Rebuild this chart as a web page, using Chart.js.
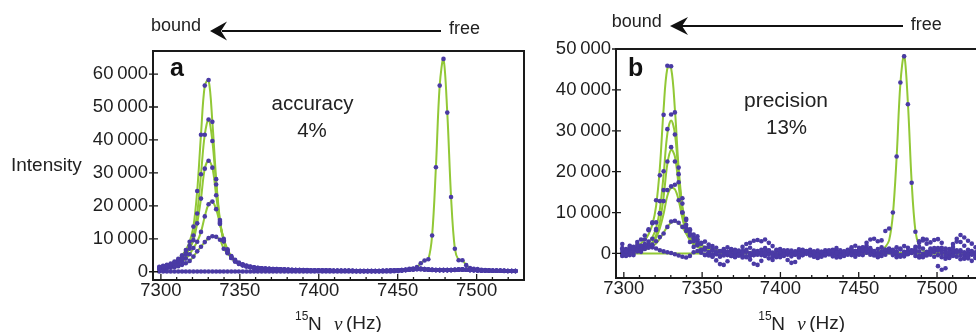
<!DOCTYPE html>
<html>
<head>
<meta charset="utf-8">
<script src="https://cdn.jsdelivr.net/npm/chart.js@4.4.1/dist/chart.umd.min.js"></script>
<style>
  html, body { margin: 0; padding: 0; background: #fff; overflow: hidden; }
  body { width: 976px; height: 332px; position: relative; }
  canvas { position: absolute; top: 0; }
  #chartA { left: 0; }
  #chartB { left: 530px; }
  .lbl { position: absolute; white-space: nowrap; line-height: 1; color: #222;
         font-family: "Liberation Sans", Arial, Helvetica, sans-serif; }
  .serif { font-family: "Liberation Serif", "Times New Roman", serif; font-style: italic; }
  .bold { font-weight: bold; color: #111; }
  #arrows { position: absolute; left: 0; top: 0; }
</style>
</head>
<body>
<canvas id="chartA" width="530" height="332"></canvas>
<canvas id="chartB" width="470" height="332"></canvas>

<svg id="arrows" width="976" height="50">
  <line x1="441" y1="31" x2="222" y2="31" stroke="#111" stroke-width="1.8"/>
  <polygon points="210,31 227,21.5 221,31 227,40.5" fill="#111"/>
  <line x1="903" y1="26" x2="682" y2="26" stroke="#111" stroke-width="1.8"/>
  <polygon points="670,26 688,17 682,26 688,35" fill="#111"/>
</svg>

<!-- annotations -->
<div class="lbl" style="left:11px;top:155.4px;font-size:19px">Intensity</div>
<div class="lbl" style="left:151px;top:16.3px;font-size:18px">bound</div>
<div class="lbl" style="left:449px;top:19.1px;font-size:18px">free</div>
<div class="lbl" style="left:611.7px;top:12.1px;font-size:18px">bound</div>
<div class="lbl" style="left:910.7px;top:14.8px;font-size:18px">free</div>
<div class="lbl" style="left:312.5px;top:93.2px;font-size:20.5px;transform:translateX(-50%)">accuracy</div>
<div class="lbl" style="left:312px;top:120px;font-size:20.5px;transform:translateX(-50%)">4%</div>
<div class="lbl" style="left:786px;top:88.7px;font-size:21px;transform:translateX(-50%)">precision</div>
<div class="lbl" style="left:786.5px;top:117px;font-size:20.5px;transform:translateX(-50%)">13%</div>
<div class="lbl bold" style="left:170px;top:55.3px;font-size:25px">a</div>
<div class="lbl bold" style="left:628px;top:54.8px;font-size:25px">b</div>

<!-- x axis titles -->
<div class="lbl" style="left:295px;top:310.3px;font-size:12px">15</div>
<div class="lbl" style="left:308px;top:313.9px;font-size:19px">N</div>
<div class="lbl serif" style="left:334px;top:314.1px;font-size:19px">ν</div>
<div class="lbl" style="left:346px;top:313.4px;font-size:19px">(Hz)</div>
<div class="lbl" style="left:758.3px;top:310.3px;font-size:12px">15</div>
<div class="lbl" style="left:771.3px;top:313.9px;font-size:19px">N</div>
<div class="lbl serif" style="left:797.3px;top:314.1px;font-size:19px">ν</div>
<div class="lbl" style="left:809.3px;top:313.4px;font-size:19px">(Hz)</div>

<script>
// 15N frequency grid of the spectra (Hz)
const freq = [
  7299.0, 7301.4, 7303.8, 7306.2, 7308.6, 7311.0, 7313.4, 7315.8, 7318.2, 7320.6,
  7323.0, 7325.4, 7327.8, 7330.2, 7332.6, 7335.0, 7337.4, 7339.8, 7342.2, 7344.6,
  7347.0, 7349.4, 7351.8, 7354.2, 7356.6, 7359.0, 7361.4, 7363.8, 7366.2, 7368.6,
  7371.0, 7373.4, 7375.8, 7378.2, 7380.6, 7383.0, 7385.4, 7387.8, 7390.2, 7392.6,
  7395.0, 7397.4, 7399.8, 7402.2, 7404.6, 7407.0, 7409.4, 7411.8, 7414.2, 7416.6,
  7419.0, 7421.4, 7423.8, 7426.2, 7428.6, 7431.0, 7433.4, 7435.8, 7438.2, 7440.6,
  7443.0, 7445.4, 7447.8, 7450.2, 7452.6, 7455.0, 7457.4, 7459.8, 7462.2, 7464.6,
  7467.0, 7469.4, 7471.8, 7474.2, 7476.6, 7479.0, 7481.4, 7483.8, 7486.2, 7488.6,
  7491.0, 7493.4, 7495.8, 7498.2, 7500.6, 7503.0, 7505.4, 7507.8, 7510.2, 7512.6,
  7515.0, 7517.4, 7519.8, 7522.2, 7524.6
];

// panel a: intensities in thousands
const aBound1 = [
  1.5, 1.8, 2.1, 2.5, 3.1, 3.9, 5.0, 6.6, 9.1, 13.7,
  24.5, 41.6, 56.5, 58.2, 45.5, 28.1, 15.7, 9.4, 6.0, 4.2,
  3.1, 2.4, 1.95, 1.6, 1.35, 1.15, 1.0, 0.9, 0.85, 0.8,
  0.75, 0.7, 0.65, 0.6, 0.55, 0.5, 0.5, 0.45, 0.45, 0.4,
  0.4, 0.4, 0.35, 0.35, 0.35, 0.3, 0.3, 0.3, 0.3, 0.3,
  0.3, 0.25, 0.25, 0.25, 0.25, 0.25, 0.25, 0.25, 0.25, 0.25,
  0.3, 0.3, 0.35, 0.4, 0.45, 0.5, 0.6, 0.7, 0.8, 0.8,
  0.7, 0.6, 0.55, 0.5, 0.5, 0.5, 0.5, 0.5, 0.55, 0.6,
  0.65, 0.6, 0.5, 0.45, 0.4, 0.35, 0.35, 0.3, 0.3, 0.3,
  0.3, 0.25, 0.25, 0.25, 0.25
];
const aBound2 = [
  1.3, 1.5, 1.8, 2.2, 2.7, 3.4, 4.4, 5.8, 7.9, 11.0,
  17.7, 29.6, 41.6, 46.2, 39.7, 26.5, 15.2, 9.2, 6.0, 4.2,
  3.1, 2.4, 1.95, 1.6, 1.35, 1.15, 1.0, 0.9, 0.85, 0.8,
  0.75, 0.7, 0.65, 0.6, 0.55, 0.55, 0.5, 0.5, 0.45, 0.45,
  0.4, 0.4, 0.4, 0.35, 0.35, 0.35, 0.3, 0.3, 0.3, 0.3,
  0.3, 0.3, 0.25, 0.25, 0.25, 0.25, 0.25, 0.25, 0.25, 0.3,
  0.3, 0.35, 0.4, 0.45, 0.5, 0.6, 0.7, 0.8, 0.9, 0.9,
  0.8, 0.7, 0.6, 0.55, 0.5, 0.5, 0.5, 0.55, 0.6, 0.7,
  0.7, 0.6, 0.55, 0.5, 0.45, 0.4, 0.35, 0.35, 0.3, 0.3,
  0.3, 0.3, 0.25, 0.25, 0.25
];
const aBound3 = [
  1.2, 1.4, 1.7, 2.0, 2.5, 3.1, 4.0, 5.2, 7.0, 9.6,
  14.7, 22.2, 31.3, 33.7, 31.6, 23.2, 14.8, 9.6, 6.5, 4.6,
  3.4, 2.6, 2.1, 1.75, 1.45, 1.25, 1.1, 1.0, 0.9, 0.85,
  0.8, 0.75, 0.7, 0.65, 0.6, 0.55, 0.5, 0.5, 0.45, 0.45,
  0.4, 0.4, 0.4, 0.35, 0.35, 0.35, 0.3, 0.3, 0.3, 0.3,
  0.3, 0.3, 0.25, 0.25, 0.25, 0.25, 0.25, 0.25, 0.25, 0.3,
  0.3, 0.35, 0.4, 0.45, 0.5, 0.6, 0.7, 0.8, 0.9, 0.9,
  0.8, 0.7, 0.6, 0.55, 0.5, 0.5, 0.5, 0.55, 0.6, 0.7,
  0.7, 0.6, 0.55, 0.5, 0.45, 0.4, 0.35, 0.35, 0.3, 0.3,
  0.3, 0.3, 0.25, 0.25, 0.25
];
const aBound4 = [
  1.0, 1.2, 1.4, 1.7, 2.0, 2.5, 3.1, 4.0, 5.3, 7.2,
  9.1, 12.1, 16.8, 20.5, 21.3, 19.0, 14.5, 10.0, 6.8, 4.8,
  3.6, 2.8, 2.25, 1.85, 1.55, 1.35, 1.2, 1.05, 0.95, 0.9,
  0.85, 0.8, 0.7, 0.65, 0.6, 0.55, 0.55, 0.5, 0.5, 0.45,
  0.4, 0.4, 0.35, 0.35, 0.35, 0.3, 0.3, 0.3, 0.3, 0.3,
  0.3, 0.25, 0.25, 0.25, 0.25, 0.25, 0.25, 0.25, 0.25, 0.25,
  0.3, 0.3, 0.35, 0.4, 0.45, 0.5, 0.6, 0.7, 0.8, 0.8,
  0.7, 0.6, 0.55, 0.5, 0.5, 0.5, 0.5, 0.5, 0.55, 0.6,
  0.65, 0.6, 0.5, 0.45, 0.4, 0.35, 0.35, 0.3, 0.3, 0.3,
  0.3, 0.25, 0.25, 0.25, 0.25
];
const aBound5 = [
  0.8, 0.9, 1.0, 1.2, 1.4, 1.7, 2.1, 2.6, 3.3, 4.6,
  6.2, 7.6, 9.0, 10.2, 10.8, 10.6, 9.7, 7.0, 5.6, 4.3,
  3.3, 2.6, 2.1, 1.75, 1.5, 1.3, 1.15, 1.05, 0.95, 0.9,
  0.85, 0.8, 0.75, 0.7, 0.65, 0.6, 0.55, 0.55, 0.5, 0.5,
  0.4, 0.4, 0.4, 0.35, 0.35, 0.35, 0.3, 0.3, 0.3, 0.3,
  0.3, 0.3, 0.25, 0.25, 0.25, 0.25, 0.25, 0.25, 0.25, 0.3,
  0.3, 0.35, 0.4, 0.45, 0.5, 0.6, 0.7, 0.8, 0.9, 0.9,
  0.8, 0.7, 0.6, 0.55, 0.5, 0.5, 0.5, 0.55, 0.6, 0.7,
  0.7, 0.6, 0.55, 0.5, 0.45, 0.4, 0.35, 0.35, 0.3, 0.3,
  0.3, 0.3, 0.25, 0.25, 0.25
];
const aFree = [
  0.1, 0.1, 0.1, 0.1, 0.1, 0.1, 0.1, 0.1, 0.1, 0.1,
  0.1, 0.1, 0.1, 0.1, 0.1, 0.1, 0.1, 0.1, 0.1, 0.1,
  0.1, 0.1, 0.1, 0.1, 0.1, 0.1, 0.1, 0.1, 0.1, 0.1,
  0.1, 0.1, 0.1, 0.1, 0.1, 0.1, 0.1, 0.1, 0.1, 0.1,
  0.1, 0.1, 0.1, 0.1, 0.1, 0.1, 0.1, 0.1, 0.1, 0.1,
  0.1, 0.1, 0.1, 0.1, 0.1, 0.1, 0.1, 0.1, 0.1, 0.1,
  0.1, 0.1, 0.15, 0.2, 0.3, 0.5, 0.9, 1.0, 1.4, 2.6,
  3.4, 3.8, 11.0, 31.7, 56.5, 64.6, 48.3, 22.7, 7.0, 3.5,
  3.5, 2.0, 1.1, 0.9, 0.8, 0.6, 0.5, 0.45, 0.4, 0.35,
  0.3, 0.3, 0.25, 0.25, 0.2
];

// panel b: noisy spectra, intensities in thousands
const bBound1 = [
  2.3, 0.6, 1.9, 1.2, 2.8, 3.4, 4.4, 5.9, 7.6, 13.0,
  19.1, 33.9, 45.9, 45.8, 34.5, 19.4, 12.2, 8.2, 5.6, 4.6,
  3.5, 2.4, 2.9, 1.6, 0.8, 1.4, 0.5, -0.2, 0.4, 1.1,
  0.6, -0.3, 0.2, 0.9, 1.4, 0.7, 0.1, -0.4, 0.3, 0.8,
  0.2, -0.6, -0.9, -0.3, 0.4, 0.7, 0.1, -0.5, -0.2, 0.5,
  0.9, 0.3, -0.4, -0.8, -0.3, 0.4, 0.8, 0.2, -0.5, -0.3,
  0.4, 1.0, 0.6, -0.1, -0.4, 0.3, 0.9, 0.5, -0.2, -0.6,
  -0.3, 0.4, 0.8, 0.3, -0.4, -0.7, -0.1, 0.5, 1.1, 1.6,
  1.2, 0.4, -0.3, -0.8, -3.1, -4.0, -3.6, -1.0, 0.9, 0.4,
  -0.5, -1.3, -0.9, -0.2, 0.3
];
const bBound2 = [
  -0.3, 0.4, 1.6, 0.2, 2.1, 1.0, 3.4, 5.7, 7.4, 7.6,
  12.8, 20.1, 30.4, 34.0, 29.1, 21.0, 13.5, 8.5, 5.9, 3.0,
  4.2, 2.6, 0.9, 2.2, 1.8, 0.3, -0.6, 0.8, 1.5, 0.9,
  0.2, 0.7, 1.6, 2.3, 2.6, 3.1, 3.3, 3.0, 3.4, 2.6,
  1.8, 0.9, 0.4, 0.8, 0.3, -0.2, 0.5, 1.0, 0.6, -0.1,
  -0.5, 0.2, 0.7, 0.4, -0.2, 0.3, 0.9, 1.3, 0.8, 0.4,
  0.9, 1.5, 1.9, 1.4, 0.8, 0.2, -0.3, 0.4, 1.1, 1.5,
  0.9, 0.3, -0.2, 0.5, 1.2, 1.8, 1.4, 0.7, 1.6, 3.0,
  3.6, 3.4, 2.7, 3.3, 3.5, 2.6, 1.2, 0.4, 1.6, 2.9,
  4.5, 3.9, 3.1, 2.4, 1.5
];
const bBound3 = [
  0.9, -0.6, 0.3, -0.4, 0.8, 1.9, 1.1, 2.9, 2.2, 6.0,
  9.8, 15.5, 22.5, 26.0, 22.5, 17.4, 10.0, 6.3, 2.8, 1.6,
  2.3, 0.9, -0.4, 0.2, -0.8, -1.7, -2.6, -2.8, -1.9, -0.6,
  0.2, -0.5, -1.0, -0.7, -1.5, -2.5, -2.8, -1.8, -0.6, -0.2,
  -0.8, -0.4, 0.2, -0.6, -1.6, -2.3, -2.1, -1.0, -0.4, 0.2,
  -0.3, -0.8, -1.1, -0.6, 0.1, -0.2, -0.7, -1.0, -0.5, 0.3,
  0.1, -0.4, -0.8, -0.3, 0.5, 0.9, 0.3, -0.5, -0.9, -0.2,
  0.6, 1.0, 0.4, -0.3, -0.8, -0.4, 0.3, 0.8, 0.2, -0.6,
  -0.9, -0.3, 0.5, 1.3, 0.7, 0.1, -0.5, -1.1, -0.6, 0.2,
  0.8, 0.3, -1.2, -1.8, -1.0
];
const bBound4 = [
  0.2, 1.1, -0.4, 0.9, 0.5, 1.8, 2.3, 1.4, 3.6, 5.7,
  9.8, 12.8, 15.5, 16.4, 16.8, 13.0, 10.0, 7.0, 4.4, 3.6,
  2.0, 0.5, 1.3, 0.2, -0.7, -0.2, 0.6, 1.1, 0.4, -0.3,
  -0.9, -0.5, 0.3, 0.6, 0.1, -0.4, 0.2, 0.9, 1.3, 0.7,
  0.0, 0.6, 1.1, 0.5, -0.3, -0.7, -0.2, 0.4, 0.9, 0.6,
  0.1, -0.6, -0.9, -0.4, 0.3, 0.8, 0.4, -0.3, -0.9, -0.6,
  0.2, 0.5, 0.1, 0.7, 1.4, 1.9, 1.3, 0.6, 0.1, 0.5,
  0.9, 0.4, -0.4, -0.9, -0.5, 0.2, 0.6, 0.1, -0.6, -1.0,
  -0.4, 0.3, 0.8, 0.4, -0.4, -0.9, -1.3, -0.7, -0.2, -0.8,
  -1.4, -1.0, -0.3, 0.2, -0.6
];
const bBound5 = [
  -0.6, 0.1, 0.9, 1.6, 1.1, 0.4, 1.5, 2.2, 1.9, 3.0,
  4.0, 4.9, 6.5, 7.8, 8.0, 7.5, 6.5, 5.5, 4.8, 3.9,
  3.1, 2.5, 1.4, 0.3, 0.9, -0.1, -0.8, -0.5, 0.2, 0.6,
  0.9, 0.4, -0.4, -0.9, -0.6, 0.1, 0.6, 0.2, -0.5, -1.2,
  -1.6, -0.9, -0.2, 0.4, 0.8, 0.3, -0.2, 0.3, 0.7, 0.4,
  -0.2, -0.7, -0.3, 0.4, 0.8, 0.5, -0.1, -0.6, -0.2, 0.5,
  0.8, 0.3, -0.3, 0.2, 0.9, 1.4, 0.9, 0.2, -0.4, 0.1,
  0.7, 1.2, 0.9, 1.5, 1.0, 0.4, -0.2, 0.3, 0.8, 0.5,
  -0.1, -0.5, 0.2, 0.9, 1.3, 0.8, 0.2, 1.1, 2.3, 3.6,
  2.8, 1.9, 0.9, -0.3, -1.1
];
const bFree = [
  1.3, 0.9, 1.0, 1.2, 1.4, 1.5, 1.6, 1.7, 1.5, 1.2,
  0.8, 0.5, 0.3, 0.1, -0.2, -0.5, -0.8, -1.0, -0.6, 0.3,
  0.6, 0.2, -0.3, -0.5, -0.2, 0.3, 0.5, 0.2, -0.4, -0.6,
  -0.2, 0.3, 0.6, 0.4, -0.1, -0.4, -0.3, 0.2, 0.5, 0.3,
  -0.2, -0.5, -0.3, 0.1, 0.4, 0.2, -0.3, -0.6, -0.4, 0.1,
  0.4, 0.5, 0.1, -0.3, -0.5, -0.2, 0.2, 0.5, 0.3, -0.1,
  -0.3, 0.1, 0.6, 0.8, 1.5, 2.6, 3.4, 3.6, 3.0, 3.2,
  5.5, 6.1, 10.0, 23.7, 41.8, 48.2, 36.5, 17.3, 5.3, 2.6,
  3.2, 2.4, 1.2, 0.5, 0.9, 1.4, 0.6, -0.2, 0.3, 0.8,
  0.4, -0.3, 0.2, 0.6, 0.1
];

// panel b fitted curves, on a coarser grid away from the peaks
const fitFreq = [
  7299.0, 7301.4, 7303.8, 7306.2, 7308.6, 7311.0, 7313.4, 7315.8, 7318.2, 7320.6,
  7323.0, 7325.4, 7327.8, 7330.2, 7332.6, 7335.0, 7337.4, 7339.8, 7342.2, 7344.6,
  7347.0, 7349.4, 7351.8,
  7361.4, 7375.8, 7399.8, 7431.0, 7452.6, 7459.8, 7462.2, 7464.6, 7467.0, 7469.4,
  7471.8, 7474.2, 7476.6, 7479.0, 7481.4, 7483.8, 7486.2, 7488.6, 7491.0, 7495.8,
  7505.4, 7524.6
];
const bFit1 = [
  0.9, 1.1, 1.3, 1.6, 2.0, 2.5, 3.3, 4.7, 7.0, 11.6,
  20.9, 35.3, 45.3, 45.3, 35.3, 20.9, 11.6, 7.0, 4.7, 3.3,
  2.5, 2.0, 1.6,
  0.8, 0.4, 0.2, 0.1, 0.1, 0.1, 0.1, 0.1, 0.1, 0.1,
  0.1, 0.1, 0.1, 0.1, 0.1, 0.1, 0.1, 0.1, 0.1, 0.1,
  0.05, 0.05
];
const bFit2 = [
  0.6, 0.7, 0.85, 1.0, 1.2, 1.5, 2.0, 2.8, 3.9, 6.2,
  10.7, 19.2, 29.3, 32.5, 29.3, 19.2, 10.7, 6.2, 3.9, 2.8,
  2.0, 1.5, 1.2,
  0.6, 0.3, 0.15, 0.1, 0.1, 0.1, 0.1, 0.1, 0.1, 0.1,
  0.1, 0.1, 0.1, 0.1, 0.1, 0.1, 0.1, 0.1, 0.1, 0.1,
  0.05, 0.05
];
const bFit3 = [
  0.46, 0.54, 0.64, 0.77, 0.94, 1.15, 1.5, 2.0, 2.8, 4.5,
  7.7, 13.8, 21.9, 25.4, 23.7, 16.6, 9.4, 5.4, 3.3, 2.3,
  1.7, 1.3, 1.0,
  0.5, 0.25, 0.12, 0.08, 0.08, 0.08, 0.08, 0.08, 0.08, 0.08,
  0.08, 0.08, 0.08, 0.08, 0.08, 0.08, 0.08, 0.08, 0.08, 0.08,
  0.05, 0.05
];
const bFit4 = [
  0.42, 0.49, 0.55, 0.66, 0.8, 1.0, 1.3, 1.7, 2.5, 3.8,
  6.2, 9.7, 14.1, 16.0, 15.7, 13.0, 8.6, 5.2, 3.2, 2.2,
  1.6, 1.2, 0.95,
  0.45, 0.22, 0.1, 0.07, 0.07, 0.07, 0.07, 0.07, 0.07, 0.07,
  0.07, 0.07, 0.07, 0.07, 0.07, 0.07, 0.07, 0.07, 0.07, 0.07,
  0.04, 0.04
];
const bFit5 = [
  0.32, 0.36, 0.43, 0.51, 0.62, 0.76, 0.95, 1.25, 1.75, 2.45,
  3.6, 5.1, 6.55, 7.5, 7.8, 7.4, 6.4, 4.85, 3.45, 2.35,
  1.7, 1.2, 0.92,
  0.42, 0.2, 0.1, 0.05, 0.05, 0.05, 0.05, 0.05, 0.05, 0.05,
  0.05, 0.05, 0.05, 0.05, 0.05, 0.05, 0.05, 0.05, 0.05, 0.05,
  0.03, 0.03
];
const bFitFree = [
  0, 0, 0, 0, 0, 0, 0, 0, 0, 0,
  0, 0, 0, 0, 0, 0, 0, 0, 0, 0,
  0, 0, 0,
  0, 0, 0, 0, 0, 0.2, 0.4, 0.8, 1.6, 3.2,
  9.5, 23.5, 41.5, 48.5, 36.8, 17.5, 5.5, 1.8, 0.7, 0.2,
  0.05, 0
];

// axis ticks
const xTicks = [7300, 7350, 7400, 7450, 7500];
const yTicksA = [0, 10000, 20000, 30000, 40000, 50000, 60000];
const yTicksB = [0, 10000, 20000, 30000, 40000, 50000];

const dotColor = '#4a3aa5';
const fitColor = '#92c836';
const tickFont = { family: '"Liberation Sans", Arial, Helvetica, sans-serif', size: 18.5 };

function toPoints(xs, ys) {
  return xs.map((x, i) => ({ x: x, y: ys[i] * 1000 }));
}

function fitSet(xs, ys) {
  return {
    data: toPoints(xs, ys), showLine: true, borderColor: fitColor, borderWidth: 2,
    pointRadius: 0, tension: 0.35, order: 2
  };
}

function dotSet(xs, ys) {
  return {
    data: toPoints(xs, ys), showLine: false, pointRadius: 2.3,
    pointBackgroundColor: dotColor, pointBorderWidth: 0, order: 1
  };
}

// thin space between thousands, like the original
function fmt(v) {
  return String(v).replace(/\B(?=(\d{3})+(?!\d))/g, '\u2009');
}

// black box around the plot plus inward tick marks
const framePlugin = {
  id: 'frame',
  afterDraw(chart, args, opts) {
    const { ctx, chartArea: a, scales } = chart;
    ctx.save();
    ctx.strokeStyle = '#1a1a1a';
    ctx.lineWidth = 1.3;
    ctx.beginPath();
    for (let v = 7300; v <= 7530; v += 10) {
      const px = scales.x.getPixelForValue(v);
      const len = v % 50 === 0 ? 6 : 3;
      ctx.moveTo(px, a.bottom);
      ctx.lineTo(px, a.bottom - len);
    }
    opts.yTicks.forEach(v => {
      const py = scales.y.getPixelForValue(v);
      ctx.moveTo(a.left - 4, py);
      ctx.lineTo(a.left + 5, py);
    });
    ctx.stroke();
    ctx.lineWidth = 2;
    ctx.strokeRect(a.left, a.top, a.right - a.left, a.bottom - a.top);
    ctx.restore();
  }
};

function makeChart(id, datasets, yMin, yMax, yTicks, pad, yWidth) {
  return new Chart(document.getElementById(id), {
    type: 'scatter',
    data: { datasets: datasets },
    options: {
      responsive: false,
      animation: false,
      devicePixelRatio: 1,
      events: [],
      layout: { padding: pad },
      plugins: { legend: { display: false }, tooltip: { enabled: false }, frame: { yTicks: yTicks } },
      scales: {
        x: {
          type: 'linear', min: 7295, max: 7530,
          afterBuildTicks: s => { s.ticks = xTicks.map(v => ({ value: v })); },
          afterFit: s => { s.height = 30; },
          grid: { display: false, drawTicks: false }, border: { display: false },
          ticks: { font: tickFont, color: '#1e1e1e', padding: 0, maxRotation: 0, autoSkip: false,
                   callback: v => String(v) }
        },
        y: {
          type: 'linear', min: yMin, max: yMax,
          afterBuildTicks: s => { s.ticks = yTicks.map(v => ({ value: v })); },
          afterFit: s => { s.width = yWidth; },
          grid: { display: false, drawTicks: false }, border: { display: false },
          ticks: { font: tickFont, color: '#1e1e1e', padding: 5, callback: v => fmt(v) }
        }
      }
    },
    plugins: [framePlugin]
  });
}

// panel a: fits follow the data closely
const aSeries = [aBound1, aBound2, aBound3, aBound4, aBound5, aFree];
const aDatasets = aSeries.map(s => fitSet(freq, s)).concat(aSeries.map(s => dotSet(freq, s)));
makeChart('chartA', aDatasets, -2500, 67000, yTicksA,
  { left: 0, top: 51, right: 6, bottom: 22 }, 153);

// panel b: separate fitted curves under the noisy points
const bFits = [bFit1, bFit2, bFit3, bFit4, bFit5, bFitFree];
const bSeries = [bBound1, bBound2, bBound3, bBound4, bBound5, bFree];
const bDatasets = bFits.map(s => fitSet(fitFreq, s)).concat(bSeries.map(s => dotSet(freq, s)));
makeChart('chartB', bDatasets, -6000, 50000, yTicksB,
  { left: 0, top: 49, right: 16, bottom: 24 }, 86);
</script>
</body>
</html>
